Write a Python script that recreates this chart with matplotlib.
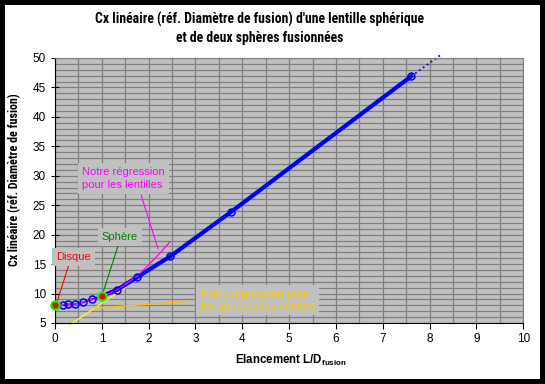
import matplotlib
matplotlib.use('Agg')
import matplotlib.pyplot as plt
from matplotlib.ticker import MultipleLocator

plt.rcParams['font.family'] = ['Liberation Sans', 'DejaVu Sans']
plt.rcParams['mathtext.fontset'] = 'custom'
plt.rcParams['mathtext.rm'] = 'Liberation Sans'
plt.rcParams['mathtext.bf'] = 'Liberation Sans:bold'

NARROW = ['Roboto Condensed', 'Fira Sans Condensed', 'Liberation Sans', 'DejaVu Sans']

# Cx lineaire des lentilles (points mesures)
lens_x = [0.16, 0.28, 0.43, 0.60, 0.78, 1.0, 1.32, 1.75, 2.46, 3.75, 7.61]
lens_y = [8.06, 8.17, 8.23, 8.5, 9.0, 9.58, 10.6, 12.75, 16.3, 23.8, 46.9]

# extrapolation pointillee
ext_x = [7.61, 8.27]
ext_y = [46.9, 50.7]

# regression pour les lentilles
reg_lens_x = [0.0, 0.5, 1.0, 1.32, 1.75, 2.2, 2.46]
reg_lens_y = [8.0, 8.3, 9.4, 10.6, 12.9, 16.5, 18.8]

# regression pour les spheres fusionnees
reg_sph_x = [0.3, 1.5]
reg_sph_y = [4.6, 11.0]

# disque et sphere
disk_x, disk_y = [0.0], [8.0]
sphere_x, sphere_y = [1.0], [9.55]


def fit_width(fig, txt, target_px, vertical=False):
    # shrink / grow the font so the text spans about target_px
    r = fig.canvas.get_renderer()
    bb = txt.get_window_extent(renderer=r)
    w = bb.height if vertical else bb.width
    txt.set_fontsize(min(txt.get_fontsize() * target_px / w, 10))


fig = plt.figure(figsize=(5.45, 3.84), dpi=100)
fig.patch.set_edgecolor('black')
fig.patch.set_linewidth(6)
ax = fig.add_axes([0.101, 0.159, 0.859, 0.690])
ax.set_facecolor('#C0C0C0')

# Set gridlines
ax.set_xlim(0, 10)
ax.set_ylim(5, 50)
ax.xaxis.set_major_locator(MultipleLocator(1))
ax.xaxis.set_minor_locator(MultipleLocator(0.5))
ax.yaxis.set_major_locator(MultipleLocator(5))
ax.yaxis.set_minor_locator(MultipleLocator(1))
ax.grid(which='both', axis='both', color='#808080', linewidth=0.9)
ax.set_axisbelow(True)
ax.tick_params(which='minor', length=0)
ax.tick_params(axis='x', which='major', direction='out', length=4, labelsize=8.5)
ax.tick_params(axis='y', which='major', direction='inout', length=6, labelsize=8.5)
for s in ['top', 'right']:
    ax.spines[s].set_color('#808080')
for s in ['left', 'bottom']:
    ax.spines[s].set_color('black')

# regression lines
ax.plot(reg_sph_x, reg_sph_y, color='#FFFF00', linewidth=0.9, clip_on=False)
ax.plot(lens_x[:6], lens_y[:6], color='#0000FF', linewidth=1.2)
ax.plot(lens_x[5:], lens_y[5:], color='#0000FF', linewidth=3)
ax.plot(ext_x, ext_y, color='#0000FF', linewidth=1.3, linestyle=':', clip_on=False)
ax.plot(reg_lens_x, reg_lens_y, color='#FF00FF', linewidth=0.9)
ax.plot(lens_x, lens_y, linestyle='none', marker='o', markersize=5,
        markerfacecolor='none', markeredgecolor='#0000FF', markeredgewidth=1.1)
ax.plot(disk_x + sphere_x, disk_y + sphere_y, linestyle='none', marker='o',
        markersize=6, markerfacecolor='#FF0000', markeredgecolor='#00FF00',
        markeredgewidth=1.5, clip_on=False, zorder=5)

# leader lines
ax.plot([0.3, 0.02], [15, 8], color='#FF0000', linewidth=0.8)
ax.plot([1.35, 1.0], [18.2, 9.55], color='#008000', linewidth=0.8)
ax.plot([1.84, 2.2], [26.7, 17.6], color='#FF00FF', linewidth=0.8)
ax.plot([0.85, 2.9], [7.5, 8.7], color='#FFC000', linewidth=1.0)

# labels
box = dict(facecolor='#C0C0C0', edgecolor='none', pad=3)
ax.text(0.02, 16.2, 'Disque', color='#FF0000', fontsize=8, va='center', bbox=box)
ax.text(1.0, 19.6, 'Sphère', color='#008000', fontsize=8, va='center', bbox=box)
ax.text(0.58, 29.5, 'Notre régression\npour les lentilles', color='#FF00FF',
        fontsize=8, va='center', linespacing=1.3, bbox=box)
ax.text(3.11, 8.9, 'Notre régression pour\nles sphères fusionnées', color='#FFCC00',
        fontsize=8, va='center', linespacing=1.3, bbox=box)

title = fig.text(0.477, 0.925, "Cx linéaire (réf. Diamètre de fusion) d'une lentille sphérique\n"
                 "et de deux sphères fusionnées", ha='center', va='center',
                 fontsize=9, fontweight='bold', family=NARROW, linespacing=1.35)
ylab = fig.text(0.027, 0.531, 'Cx linéaire (réf. Diamètre de fusion)', rotation=90,
                ha='center', va='center', fontsize=8, fontweight='bold', family=NARROW)
fig.text(0.534, 0.062, r'Elancement L/D$_{\mathbf{fusion}}$', ha='center', va='center',
         fontsize=8.3, fontweight='bold')

fit_width(fig, title, 330)
fit_width(fig, ylab, 172, vertical=True)

fig.savefig('out.png', dpi=100)
